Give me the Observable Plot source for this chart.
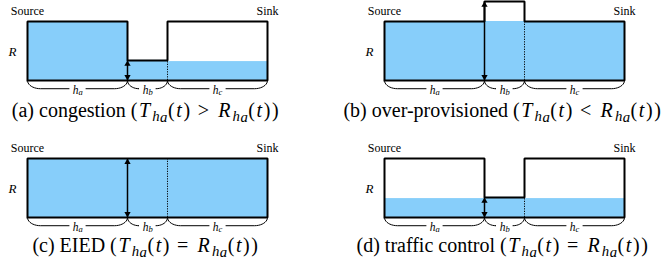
<!DOCTYPE html>
<html><head><meta charset="utf-8">
<script src="https://cdn.jsdelivr.net/npm/d3@7"></script>
<script src="https://cdn.jsdelivr.net/npm/@observablehq/plot@0.6"></script>
<style>
body{margin:0;background:#fff;}
#fig{position:relative;width:665px;height:267px;overflow:hidden;font-family:"Liberation Serif","Times New Roman",serif;}
.panel{position:absolute;}
.panel svg{display:block;overflow:visible;}
.cap{position:absolute;white-space:nowrap;font-size:20px;line-height:20px;color:#000;}
.m{letter-spacing:0.08em;}
.cap sub{font-size:74%;vertical-align:-0.3em;line-height:0;margin-left:0.04em;letter-spacing:0.03em;}
.cap sub sub{font-size:100%;vertical-align:-0.05em;margin-left:0;}
.rel{margin:0 0.38em 0 0.3em;}
</style></head>
<body><div id="fig"></div>
<script>
// ---- data ----
const panelIds = ["a", "b", "c", "d"];
const captionNames = ["congestion", "over-provisioned", "EIED", "traffic control"];
const captionRelations = [">", "<", "=", "="];
const segmentNames = ["a", "b", "c"];           // h_a, h_b, h_c
const segmentLengths = [10, 4, 10];
const capacityR = 1;                              // R
const bottleneckTop = [0.34, 1.34, 1, 0.34];     // height of the h_b section per panel
const waterA = [1, 1, 1, 0.32];
const waterB = [0.34, 1, 1, 0.34];
const waterC = [0.32, 1, 1, 0.32];
const endLabels = ["Source", "Sink"];

const serif = "Liberation Serif, Times New Roman, serif";

// ---- derived geometry ----
const x0s = [], x1s = [];
let acc = 0;
segmentLengths.forEach(L => { x0s.push(acc); acc += L; x1s.push(acc); });
const total = acc;
const waterLevels = [waterA, waterB, waterC];

const braceDepth = 0.14, braceCurve = 1.3, braceGap = 0.85;
function braces() {
  const pts = [];
  segmentNames.forEach((s, k) => {
    const a = x0s[k], b = x1s[k], mid = (a + b) / 2;
    const c = Math.min(braceCurve, mid - braceGap - a);
    [[a, 1, "L"], [b, -1, "R"]].forEach(([e, dir, side]) => {
      const id = s + side;
      for (let i = 0; i <= 10; i++) {
        const t = i / 10 * Math.PI / 2;
        pts.push({id, x: e + dir * c * (1 - Math.cos(t)), y: -braceDepth * Math.sin(t)});
      }
      pts.push({id, x: mid - dir * braceGap, y: -braceDepth});
    });
  });
  return pts;
}
const bracePts = braces();

const colLeft = [0, 357, 0, 357];
const rowTop = [0, 0, 137, 137];
const fig = document.getElementById("fig");

panelIds.forEach((p, i) => {
  const bt = bottleneckTop[i];
  const outline = [
    {x: 0, y: 0}, {x: 0, y: capacityR}, {x: x1s[0], y: capacityR}, {x: x1s[0], y: bt},
    {x: x0s[2], y: bt}, {x: x0s[2], y: capacityR}, {x: total, y: capacityR}, {x: total, y: 0}, {x: 0, y: 0}
  ];
  const water = segmentNames.map((s, k) => ({x1: x0s[k], x2: x1s[k], y: waterLevels[k][i]}));
  const segs = segmentNames.map((s, k) => ({mid: (x0s[k] + x1s[k]) / 2, s}));
  const chart = Plot.plot({
    width: 300, height: 100,
    marginLeft: 27, marginRight: 33, marginTop: 0, marginBottom: 0,
    x: {domain: [0, total], axis: null},
    y: {domain: [-0.34, 1.356], axis: null},
    marks: [
      Plot.rect(water, {x1: "x1", x2: "x2", y1: 0, y2: "y", fill: "#87cefa"}),
      Plot.ruleX([x0s[2]], {y1: 0, y2: Math.min(bt, capacityR), stroke: "#000", strokeWidth: 1, strokeDasharray: "1.2,1.3"}),
      Plot.line(outline, {x: "x", y: "y", stroke: "#000", strokeWidth: 2, strokeLinejoin: "miter", strokeLinecap: "square"}),
      Plot.link([{x: x1s[0], y1: 0, y2: bt}], {x1: "x", x2: "x", y1: "y1", y2: "y2", stroke: "#000", strokeWidth: 1.5}),
      Plot.dot([{x: x1s[0], y: bt}], {x: "x", y: "y", symbol: "triangle2", rotate: 0, r: 3, fill: "#000", stroke: null, dy: 3.6}),
      Plot.dot([{x: x1s[0], y: 0}], {x: "x", y: "y", symbol: "triangle2", rotate: 180, r: 3, fill: "#000", stroke: null, dy: -3.6}),
      Plot.line(bracePts, {x: "x", y: "y", z: "id", stroke: "#000", strokeWidth: 1}),
      Plot.text(segs, {x: "mid", y: -braceDepth, text: () => "h", dx: -2, dy: 1.5, fontSize: 11.5, fontStyle: "italic", fontFamily: serif}),
      Plot.text(segs, {x: "mid", y: -braceDepth, text: "s", dx: 3, dy: 4, fontSize: 8.5, fontStyle: "italic", fontFamily: serif}),
      Plot.text([{x: 0, t: endLabels[0]}, {x: total, t: endLabels[1]}], {x: "x", y: capacityR, text: "t", dy: -6, lineAnchor: "bottom", fontSize: 12, fontFamily: serif}),
      Plot.text([{x: 0, y: capacityR / 2}], {x: "x", y: "y", text: () => "R", dx: -15, dy: 1, fontSize: 13, fontStyle: "italic", fontFamily: serif})
    ]
  });
  const div = document.createElement("div");
  div.className = "panel";
  div.style.left = colLeft[i] + "px";
  div.style.top = rowTop[i] + "px";
  div.appendChild(chart);
  fig.appendChild(div);

  const esc = s => s.replace(/&/g, "&amp;").replace(/</g, "&lt;").replace(/>/g, "&gt;");
  const sub = `<sub><i>h</i><sub><i>a</i></sub></sub>`;
  const cap = document.createElement("div");
  cap.className = "cap";
  cap.style.top = (rowTop[i] + (i < 2 ? 100 : 98)) + "px";
  cap.innerHTML = `(${p}) ${esc(captionNames[i])} <span class="m">(<i>T</i>${sub}(<i>t</i>)<span class="rel">${esc(captionRelations[i])}</span><i>R</i>${sub}(<i>t</i>))</span>`;
  fig.appendChild(cap);
  // centre under the panel, but keep it inside the figure
  const w = cap.getBoundingClientRect().width;
  let left = colLeft[i] + 146 - w / 2;
  left = Math.max(2, Math.min(left, 664 - w));
  cap.style.left = left + "px";
});
</script>
</body></html>
